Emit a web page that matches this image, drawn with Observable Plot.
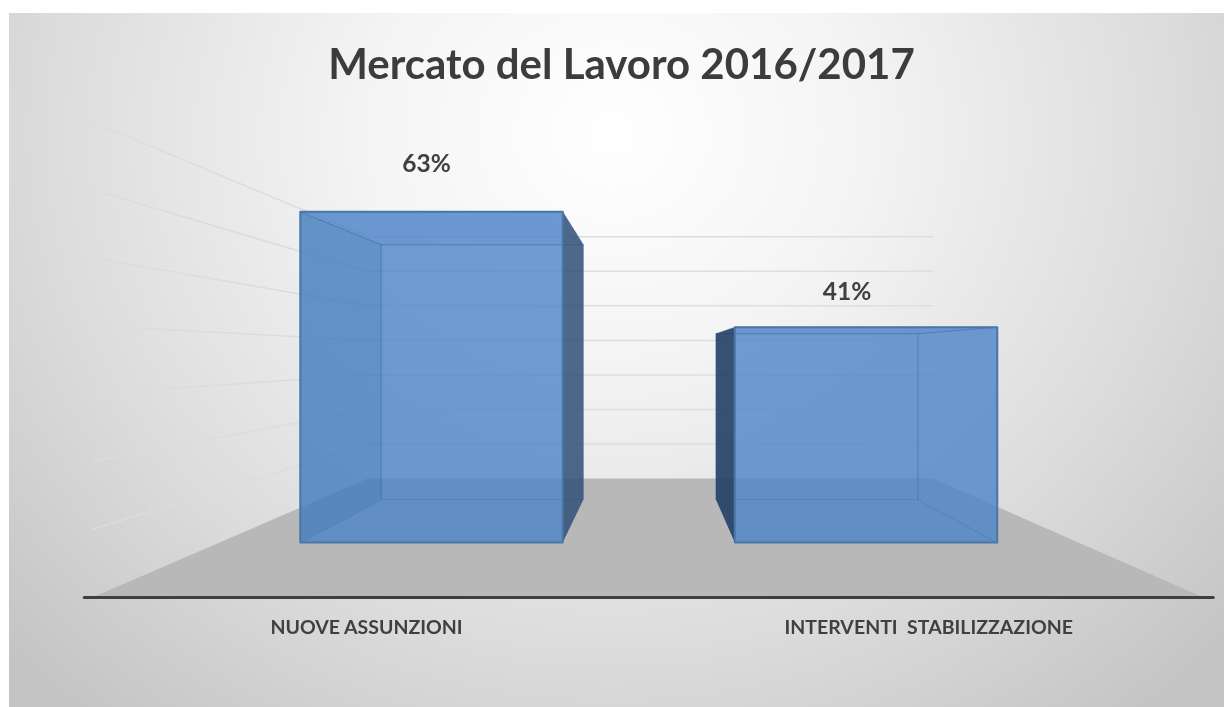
<!DOCTYPE html>
<html>
<head>
<meta charset="utf-8">
<script src="https://cdn.jsdelivr.net/npm/d3@7"></script>
<script src="https://cdn.jsdelivr.net/npm/@observablehq/plot@0.6"></script>
<style>
html,body{margin:0;padding:0;background:#fff;overflow:hidden}
#wrap{position:relative;width:1224px;height:707px}
#bg{position:absolute;left:9px;top:13px;right:0;bottom:0;
background:radial-gradient(ellipse 830px 760px at 603px 120px,#ffffff 0%,#f4f4f4 30%,#dcdcdc 68%,#c4c4c4 100%);}
#chart{position:absolute;left:0;top:0}
svg{display:block;background:transparent!important;filter:blur(0.5px)}
</style>
</head>
<body>
<div id="wrap"><div id="bg"></div><div id="chart"></div></div>
<script>
const title = "Mercato del Lavoro 2016/2017";
const categories = ["NUOVE ASSUNZIONI", "INTERVENTI  STABILIZZAZIONE"];
const values = [63, 41];
const valueLabels = ["63%", "41%"];
const gridTicks = [10, 20, 30, 40, 50, 60, 70];

// 3D depth model of the chart: each depth scales toward the vanishing point
const vanish = {u: 0.509, v: 35.6};
const depth = {barFront: 1, barBack: 0.77, roomFront: 1.294, roomBack: 0.658};
const halfBar = 0.302;
const room = [-0.488, 1.489];
const P = (u, v, s) => ({u: vanish.u + s * (u - vanish.u), v: vanish.v + s * (v - vanish.v)});

const poly = (pts, o) => Plot.line(pts, {x: "u", y: "v", curve: "linear-closed", ...o});

const floor = [P(room[0],0,depth.roomFront), P(room[1],0,depth.roomFront), P(room[1],0,depth.roomBack), P(room[0],0,depth.roomBack)];

const backGrid = gridTicks.map(t => [P(room[0],t,depth.roomBack), P(room[1],t,depth.roomBack)]);
const leftGrid = gridTicks.map(t => [P(room[0],t,depth.roomBack), P(room[0],t,depth.roomFront)]);

function barMarks(i) {
  const l = i - halfBar, r = i + halfBar, h = values[i];
  const f = depth.barFront, b = depth.barBack;
  const outer = i === 0 ? r : l, inner = i === 0 ? l : r;
  const edge = {stroke: "#3f6ea3", strokeWidth: 1, strokeOpacity: 0.35};
  return [
    poly([P(l,0,f),P(r,0,f),P(r,h,f),P(l,h,f)], {fill: "#4a83c8", fillOpacity: 0.8}),
    poly([P(l,0,b),P(r,0,b),P(r,h,b),P(l,h,b)], {fill: "none", ...edge}),
    poly([P(inner,0,f),P(inner,h,f),P(inner,h,b),P(inner,0,b)], {fill: "#1f4f8a", fillOpacity: i === 0 ? 0.11 : 0, ...edge}),
    poly([P(l,h,f),P(r,h,f),P(r,h,b),P(l,h,b)], {fill: "#1f4f8a", fillOpacity: 0.03, ...edge}),
    poly([P(outer,0,f),P(outer,h,f),P(outer,h,b),P(outer,0,b)], {fill: i === 0 ? "#2f4f78" : "#223f66", fillOpacity: i === 0 ? 0.85 : 0.9}),
    poly([P(l,0,f),P(r,0,f),P(r,h,f),P(l,h,f)], {fill: "none", stroke: "#4a76a8", strokeWidth: 2})
  ];
}

const font = "Lato, Carlito, sans-serif";
const labelAt = categories.map((c, i) => ({c, ...P(i, 0, depth.roomFront)}));
const valueAt = valueLabels.map((t, i) => ({t, u: i, v: values[i]}));
const axisRule = [P(room[0] - 0.014, 0, depth.roomFront), P(room[1] + 0.017, 0, depth.roomFront)];

const plot = Plot.plot({
  width: 1224, height: 707,
  marginTop: 0, marginRight: 0, marginBottom: 0, marginLeft: 0,
  x: {type: "linear", domain: [-0.992, 1.825], range: [0, 1224], axis: null},
  y: {type: "linear", domain: [-31.43, 103.24], range: [707, 0], axis: null},
  style: {background: "transparent", fontFamily: font},
  marks: [
    poly(floor, {fill: "#b8b8b8"}),
    ...backGrid.map(s => Plot.line(s, {x: "u", y: "v", stroke: "#dedede", strokeWidth: 1.5})),
    ...leftGrid.map(s => Plot.line(s, {x: "u", y: "v", stroke: "#dcdcdc", strokeWidth: 1.5})),
    ...barMarks(0),
    ...barMarks(1),
    Plot.line(axisRule, {x: "u", y: "v", stroke: "#3f3f3f", strokeWidth: 3, strokeLinecap: "round"}),
    Plot.text(labelAt, {x: "u", y: "v", text: "c", dy: 30, fontSize: 19.5, fontWeight: 700, fill: "#404040", fontFamily: font}),
    Plot.text(valueAt.filter(d => d.u === 0), {x: "u", y: "v", text: "t", dx: -5, dy: -48, fontSize: 24.5, fontWeight: 700, fill: "#404040", fontFamily: font}),
    Plot.text(valueAt.filter(d => d.u === 1), {x: "u", y: "v", text: "t", dx: -19, dy: -35, fontSize: 24.5, fontWeight: 700, fill: "#404040", fontFamily: font}),
    Plot.text([title], {frameAnchor: "top", dx: 9, dy: 49, text: d => d, fontSize: 42, fontWeight: 700, fill: "#3c3c3c", fontFamily: font})
  ]
});
document.getElementById("chart").appendChild(plot);
</script>
</body>
</html>
